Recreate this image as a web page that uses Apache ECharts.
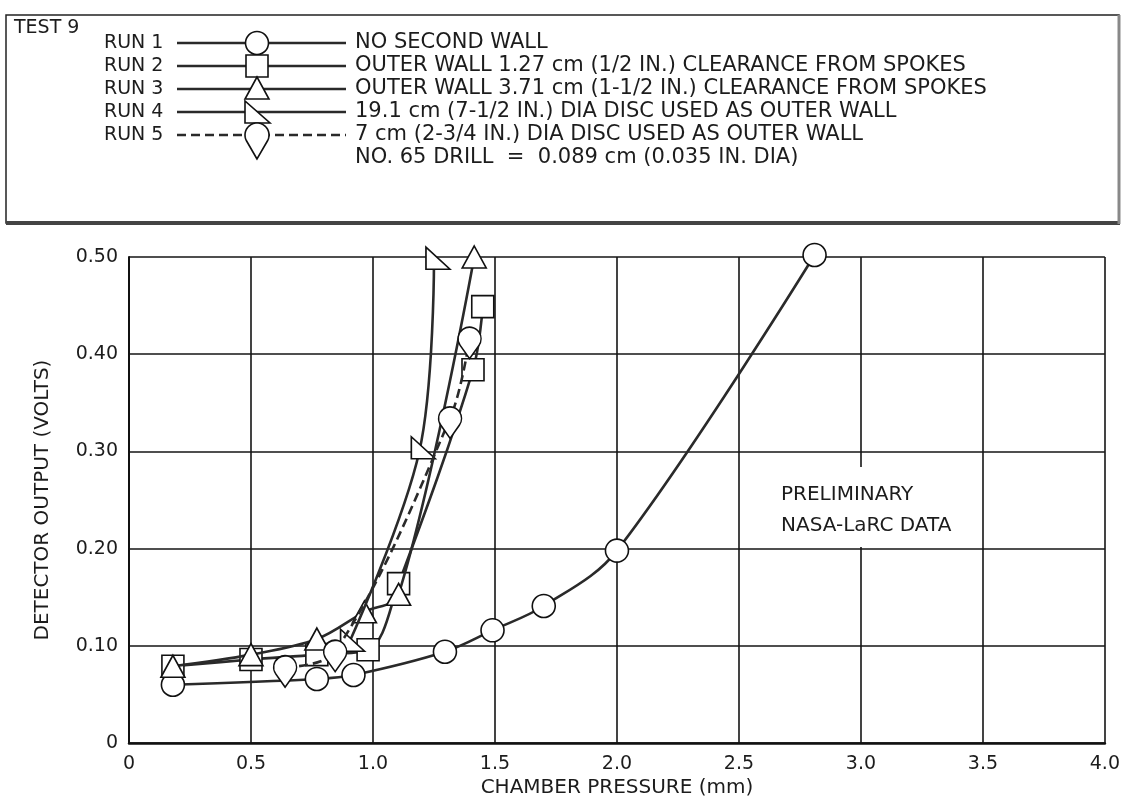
<!DOCTYPE html>
<html>
<head>
<meta charset="utf-8">
<script src="https://cdn.jsdelivr.net/npm/echarts@6/dist/echarts.min.js"></script>
<style>
  html, body { margin: 0; padding: 0; background: #fff; }
  #box { width: 1123px; height: 803px; }
</style>
</head>
<body>
<div id="box"></div>
<script>
// data
const runNames = ["RUN 1", "RUN 2", "RUN 3", "RUN 4", "RUN 5"];
const runNotes = [
  "NO SECOND WALL",
  "OUTER WALL 1.27 cm (1/2 IN.) CLEARANCE FROM SPOKES",
  "OUTER WALL 3.71 cm (1-1/2 IN.) CLEARANCE FROM SPOKES",
  "19.1 cm (7-1/2 IN.) DIA DISC USED AS OUTER WALL",
  "7 cm (2-3/4 IN.) DIA DISC USED AS OUTER WALL"
];
const drillNote = "NO. 65 DRILL  =  0.089 cm (0.035 IN. DIA)";
const testLabel = "TEST 9";
const stampLines = ["PRELIMINARY", "NASA-LaRC DATA"];

const run1 = [[0.18, 0.060], [0.77, 0.066], [0.92, 0.070], [1.295, 0.094], [1.49, 0.116], [1.70, 0.141], [2.00, 0.198], [2.81, 0.502]];
const run2 = [[0.18, 0.079], [0.50, 0.086], [0.77, 0.091], [0.98, 0.096], [1.105, 0.164], [1.41, 0.384], [1.45, 0.449]];
const run3 = [[0.18, 0.079], [0.50, 0.091], [0.77, 0.107], [0.965, 0.135], [1.105, 0.153], [1.415, 0.500]];
const run4 = [[0.90, 0.102], [1.19, 0.300], [1.25, 0.495]];
const run5 = [[0.64, 0.078], [0.845, 0.094], [1.316, 0.334], [1.396, 0.416]];

const xTickLabels = ["0", "0.5", "1.0", "1.5", "2.0", "2.5", "3.0", "3.5", "4.0"];
const yTickLabels = ["0", "0.10", "0.20", "0.30", "0.40", "0.50"];

const FONT = "DejaVu Sans";
const INK = "#1c1c1c";
const LINE = "#2a2a2a";

// marker shapes
const dropPath = "M0,20 L-9.41,6.61 A11.5,11.5 0 1 1 9.41,6.61 Z";
const wedgePath = "M0,0 L0,22 L24,22 Z";
const markers = [
  { symbol: "circle", size: 23, offset: [0, 0] },
  { symbol: "rect", size: 22, offset: [0, 0] },
  { symbol: "triangle", size: [24, 22], offset: [0, 0] },
  { symbol: "path://" + wedgePath, size: [24, 22], offset: [4, -3.7] },
  { symbol: "path://" + dropPath, size: [23, 31.5], offset: [0, 4.25] }
];
const runs = [run1, run2, run3, run4, run5];

const series = runs.map((d, i) => ({
  name: runNames[i],
  type: "line",
  data: d,
  smooth: 0.35,
  clip: false,
  symbol: markers[i].symbol,
  symbolSize: markers[i].size,
  symbolOffset: markers[i].offset,
  symbolKeepAspect: false,
  lineStyle: { color: LINE, width: 2.6, type: i === 4 ? [9, 5] : "solid" },
  itemStyle: { color: "#fff", borderColor: "#111", borderWidth: 1.6 },
  z: 2 + i
}));

// outline of the drop key marker (circle r with a tip below)
function dropOutline(cx, cy, r, tip) {
  const pts = [[cx, cy + tip]];
  const phi = Math.acos(r / tip);
  const a0 = Math.PI / 2 + phi, a1 = Math.PI / 2 - phi + 2 * Math.PI;
  for (let k = 0; k <= 40; k++) {
    const a = a0 + (a1 - a0) * k / 40;
    pts.push([cx + r * Math.cos(a), cy + r * Math.sin(a)]);
  }
  return pts;
}

// legend box drawn by hand, same layout as the printed key
const rowY = [43, 66, 89, 112, 135];
const legendEls = [
  { type: "rect", shape: { x: 6, y: 15, width: 1113, height: 208 }, style: { fill: "#fff", stroke: "#222", lineWidth: 1.5 } },
  { type: "line", shape: { x1: 6, y1: 223, x2: 1120, y2: 223 }, style: { stroke: "#444", lineWidth: 4 } },
  { type: "line", shape: { x1: 1119, y1: 15, x2: 1119, y2: 224 }, style: { stroke: "#888", lineWidth: 3 } },
  { type: "text", x: 14, y: 28, style: { text: testLabel, font: "19px " + FONT, fill: INK, verticalAlign: "middle" } }
];
runNames.forEach((name, i) => {
  const y = rowY[i];
  legendEls.push({ type: "text", x: 104, y: y, style: { text: name, font: "19px " + FONT, fill: INK, verticalAlign: "middle" } });
  legendEls.push({ type: "line", shape: { x1: 177, y1: y, x2: 346, y2: y },
    style: { stroke: LINE, lineWidth: 2.6, lineDash: i === 4 ? [9, 5] : null } });
  const mk = { fill: "#fff", stroke: "#111", lineWidth: 1.6 };
  if (i === 0) legendEls.push({ type: "circle", shape: { cx: 257, cy: y, r: 11.5 }, style: mk });
  if (i === 1) legendEls.push({ type: "rect", shape: { x: 246, y: y - 11, width: 22, height: 22 }, style: mk });
  if (i === 2) legendEls.push({ type: "polygon", shape: { points: [[257, y - 12], [245, y + 10], [269, y + 10]] }, style: mk });
  if (i === 3) legendEls.push({ type: "polygon", shape: { points: [[245, y - 11], [245, y + 11], [270, y + 11]] }, style: mk });
  if (i === 4) legendEls.push({ type: "polygon", shape: { points: dropOutline(257, y, 12, 24) }, style: mk });
  legendEls.push({ type: "text", x: 355, y: y, style: { text: runNotes[i], font: "21px " + FONT, fill: INK, verticalAlign: "middle" } });
});
legendEls.push({ type: "text", x: 355, y: 158, style: { text: drillNote, font: "21px " + FONT, fill: INK, verticalAlign: "middle" } });

// white patch behind the stamp text, as in the original
legendEls.push({ type: "rect", z: 10, shape: { x: 770, y: 467, width: 210, height: 80 }, style: { fill: "#fff" } });
legendEls.push({ type: "text", z: 11, x: 781, y: 495, style: { text: stampLines[0], font: "20px " + FONT, fill: INK, verticalAlign: "middle" } });
legendEls.push({ type: "text", z: 11, x: 781, y: 526, style: { text: stampLines[1], font: "20px " + FONT, fill: INK, verticalAlign: "middle" } });

const myChart = echarts.init(document.getElementById("box"));
const option = {
  animation: false,
  backgroundColor: "#fff",
  grid: { left: 129, right: 5, top: 257, bottom: 50, containLabel: false },
  xAxis: {
    type: "value",
    min: 0, max: 4, interval: 0.5,
    name: "CHAMBER PRESSURE (mm)",
    nameLocation: "middle",
    nameGap: 29,
    nameTextStyle: { fontFamily: FONT, fontSize: 20, color: INK },
    axisLine: { show: true, lineStyle: { color: "#111", width: 2.5 } },
    axisTick: { show: false },
    axisLabel: {
      fontFamily: FONT, fontSize: 19, color: INK, margin: 11,
      formatter: v => xTickLabels[Math.round(v / 0.5)]
    },
    splitLine: { show: true, lineStyle: { color: "#151515", width: 1.6 } }
  },
  yAxis: {
    type: "value",
    min: 0, max: 0.5, interval: 0.1,
    name: "DETECTOR OUTPUT (VOLTS)",
    nameLocation: "middle",
    nameGap: 76,
    nameTextStyle: { fontFamily: FONT, fontSize: 20, color: INK },
    axisLine: { show: true, lineStyle: { color: "#111", width: 2 } },
    axisTick: { show: false },
    axisLabel: {
      fontFamily: FONT, fontSize: 19, color: INK, margin: 11,
      formatter: v => yTickLabels[Math.round(v / 0.1)]
    },
    splitLine: { show: true, lineStyle: { color: "#151515", width: 1.6 } }
  },
  graphic: { elements: legendEls },
  series: series
};
myChart.setOption(option);
</script>
</body>
</html>
